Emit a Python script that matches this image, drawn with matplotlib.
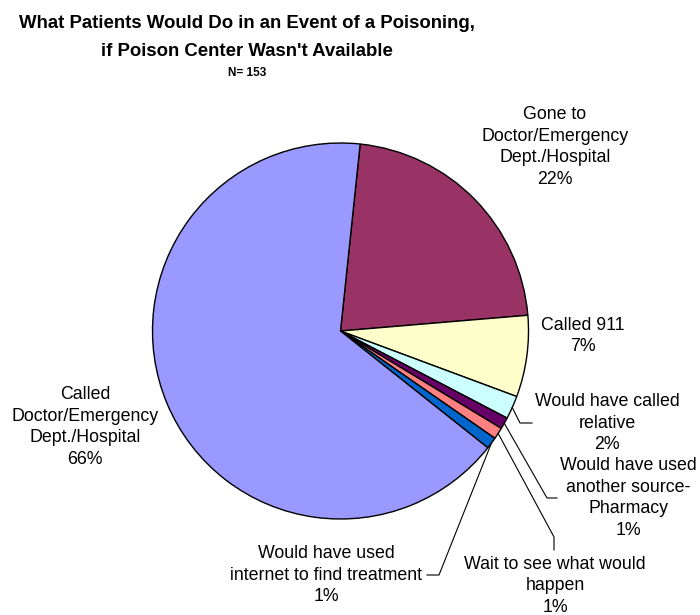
import matplotlib
matplotlib.use("Agg")
import numpy as np
import matplotlib.pyplot as plt

plt.rcParams['font.family'] = ['Liberation Sans', 'DejaVu Sans']

labels = ["Gone to\nDoctor/Emergency\nDept./Hospital",
          "Called 911",
          "Would have called\nrelative",
          "Would have used\nanother source-\nPharmacy",
          "Wait to see what would\nhappen",
          "Would have used\ninternet to find treatment",
          "Called\nDoctor/Emergency\nDept./Hospital"]
pcts = [22, 7, 2, 1, 1, 1, 66]
colors = ["#993366", "#FFFFCC", "#CCFFFF", "#660066", "#FF8080", "#0066CC", "#9999FF"]

# canvas in pixels, y measured from the top
W, H = 700, 615
def py(y):
    return H - y

fig = plt.figure(figsize=(7, 6.15), dpi=100)
ax = fig.add_axes([0, 0, 1, 1])

cx, cy, r = 340.5, py(331), 188
wedges, _ = ax.pie(pcts, colors=colors, startangle=84, counterclock=False,
                   center=(cx, cy), radius=r, frame=True,
                   wedgeprops=dict(edgecolor='black', linewidth=1))
ax.set_xlim(0, W)
ax.set_ylim(0, H)
ax.set_aspect('equal')
ax.axis('off')

# label centres
label_pos = [(555, 147), (583, 336), (607, 423), (628, 498),
             (555, 586), (326, 575), (85, 427)]
for lab, p, (lx, ly) in zip(labels, pcts, label_pos):
    ax.text(lx, py(ly), f"{lab}\n{p}%", ha='center', va='center',
            fontsize=12.8, linespacing=1.38)

# leader lines for the thin slices: wedge edge -> elbow -> label
leaders = {2: [(520, 423), (532, 423)],
           3: [(547, 498), (557, 498)],
           4: [(554, 537), (554, 550)],
           5: [(439, 575), (427, 575)]}
for i, pts in leaders.items():
    w = wedges[i]
    mid = np.deg2rad((w.theta1 + w.theta2) / 2)
    xs = [cx + r * np.cos(mid)] + [p[0] for p in pts]
    ys = [cy + r * np.sin(mid)] + [py(p[1]) for p in pts]
    ax.plot(xs, ys, color='black', linewidth=0.8)

ax.text(247, py(23), "What Patients Would Do in an Event of a Poisoning,",
        ha='center', va='center', fontsize=13.4, fontweight='bold')
ax.text(247, py(52), "if Poison Center Wasn't Available",
        ha='center', va='center', fontsize=13.4, fontweight='bold')
ax.text(247, py(73), "N= 153", ha='center', va='center', fontsize=8.5,
        fontweight='bold')

fig.savefig("out.png", dpi=100)
